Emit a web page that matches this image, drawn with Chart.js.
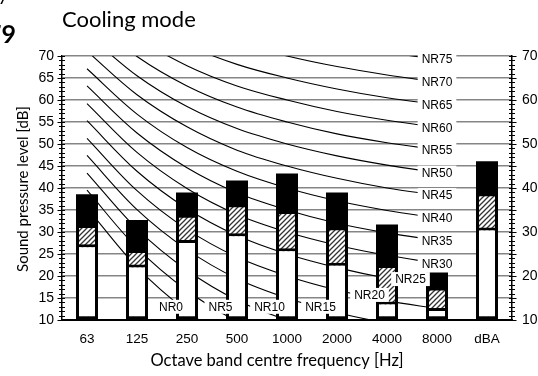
<!DOCTYPE html>
<html>
<head>
<meta charset="utf-8">
<script src="https://cdn.jsdelivr.net/npm/chart.js@4/dist/chart.umd.min.js"></script>
<style>
  html, body { margin: 0; padding: 0; background: #fff; }
</style>
</head>
<body>
<canvas id="chart" width="538" height="376"></canvas>
<script>
const bands = ['63', '125', '250', '500', '1000', '2000', '4000', '8000', 'dBA']

// bar tops in dB (bars start at 10)
const lowLevel  = [27.2, 22.6, 28.2, 29.7, 26.3, 23.0, 14.2, 12.7, 31.0]
const midLevel  = [31.6, 25.9, 33.9, 36.3, 34.8, 31.1, 22.5, 17.4, 38.8]
const highLevel = [38.6, 32.7, 39.0, 41.7, 43.3, 39.0, 31.7, 20.8, 46.1]

// NR curves, 63 Hz ... 8000 Hz
const nrNames = ['NR0', 'NR5', 'NR10', 'NR15', 'NR20', 'NR25', 'NR30', 'NR35',
                 'NR40', 'NR45', 'NR50', 'NR55', 'NR60', 'NR65', 'NR70', 'NR75']
const nrCurves = [
    [35.5, 22.0, 12.0,  4.8,  0.0, -3.5, -6.1, -8.0],
    [39.5, 26.4, 16.7,  9.7,  5.0,  1.6, -1.0, -2.9],
    [43.4, 30.7, 21.3, 14.5, 10.0,  6.7,  4.2,  2.3],
    [47.4, 35.1, 26.0, 19.4, 15.0, 11.7,  9.3,  7.5],
    [51.3, 39.4, 30.6, 24.3, 20.0, 16.8, 14.4, 12.6],
    [55.3, 43.8, 35.3, 29.2, 25.0, 21.9, 19.5, 17.8],
    [59.2, 48.1, 39.9, 34.0, 30.0, 27.0, 24.7, 22.9],
    [63.2, 52.5, 44.6, 38.9, 35.0, 32.0, 29.8, 28.1],
    [67.1, 56.8, 49.2, 43.8, 40.0, 37.1, 34.9, 33.2],
    [71.1, 61.2, 53.9, 48.6, 45.0, 42.2, 40.0, 38.4],
    [75.0, 65.5, 58.5, 53.5, 50.0, 47.3, 45.2, 43.5],
    [79.0, 69.9, 63.2, 58.4, 55.0, 52.3, 50.3, 48.7],
    [82.9, 74.2, 67.8, 63.2, 60.0, 57.4, 55.4, 53.8],
    [86.9, 78.6, 72.5, 68.1, 65.0, 62.5, 60.5, 59.0],
    [90.8, 82.9, 77.1, 73.0, 70.0, 67.6, 65.7, 64.1],
    [94.8, 87.3, 81.8, 77.9, 75.0, 72.6, 70.8, 69.3]
]

const leftTicks = [10, 15, 20, 25, 30, 35, 40, 45, 50, 55, 60, 65, 70]
const rightTicks = [10, 20, 30, 40, 50, 60, 70]

const arial = '"Liberation Sans", Arial, sans-serif'
const titleFamily = 'Lato, "Open Sans", sans-serif'

// spots for the low NR labels (category index, dB); others sit at 8000 Hz
const lowLabelSpots = [[1.68, 13.0], [2.67, 13.0], [3.65, 13.0], [4.67, 13.0], [5.65, 15.7], [6.47, 19.3]]

function makeHatch() {
    const c = document.createElement('canvas')
    c.width = 5
    c.height = 5
    const g = c.getContext('2d')
    g.fillStyle = '#fff'
    g.fillRect(0, 0, 5, 5)
    g.strokeStyle = '#333'
    g.lineWidth = 1.3
    g.beginPath()
    g.moveTo(0, 5); g.lineTo(5, 0)
    g.moveTo(-1, 1); g.lineTo(1, -1)
    g.moveTo(4, 6); g.lineTo(6, 4)
    g.stroke()
    return g.createPattern(c, 'repeat')
}

const extras = {
    id: 'extras',
    afterDatasetsDraw(chart) {
        const { ctx, scales: { x, y } } = chart
        ctx.save()
        ctx.font = '12px ' + arial
        ctx.textAlign = 'center'
        ctx.textBaseline = 'middle'
        nrNames.forEach((name, i) => {
            let xi = 7
            let v = nrCurves[i][7]
            if (i < lowLabelSpots.length) {
                xi = lowLabelSpots[i][0]
                v = lowLabelSpots[i][1]
            }
            const px = x.getPixelForValue(xi)
            const py = y.getPixelForValue(v)
            const w = ctx.measureText(name).width + 8
            ctx.fillStyle = '#fff'
            ctx.fillRect(px - w / 2, py - 7, w, 14)
            ctx.fillStyle = '#000'
            ctx.fillText(name, px, py + 1)
        })
        ctx.restore()
    },
    afterDraw(chart) {
        const { ctx, chartArea: a, scales: { y } } = chart
        ctx.save()
        // minor / major tick marks on both value axes
        ctx.strokeStyle = '#000'
        ctx.lineWidth = 1
        for (let v = 10; v <= 70; v++) {
            const py = Math.round(y.getPixelForValue(v)) + 0.5
            const big = v % 5 === 0 ? 4.5 : 3
            ctx.beginPath()
            ctx.moveTo(a.left - big, py); ctx.lineTo(a.left + 3, py)
            ctx.moveTo(a.right - 3, py); ctx.lineTo(a.right + big, py)
            ctx.stroke()
        }

        ctx.fillStyle = '#000'
        ctx.textBaseline = 'alphabetic'
        ctx.textAlign = 'left'
        ctx.font = '22px ' + titleFamily
        ctx.fillText('Cooling mode', 62, 27)

        ctx.textAlign = 'right'
        ctx.font = 'bold 25px ' + titleFamily
        ctx.fillText('79', 16, 43)
        ctx.font = '20px ' + titleFamily
        ctx.fillText('y', 8, 1)

        ctx.textAlign = 'center'
        ctx.font = '16.5px ' + titleFamily
        ctx.fillText('Octave band centre frequency [Hz]', 277, 366)

        ctx.translate(28, 189)
        ctx.rotate(-Math.PI / 2)
        ctx.font = '15px ' + titleFamily
        ctx.fillText('Sound pressure level [dB]', 0, 0)
        ctx.restore()
    }
}

const barStyle = {
    type: 'bar',
    base: 10,
    borderColor: '#000',
    borderWidth: 3,
    borderSkipped: false,
    barPercentage: 0.44,
    categoryPercentage: 1
}

const datasets = [
    { ...barStyle, label: 'low', data: lowLevel, backgroundColor: '#fff', order: 1 },
    { ...barStyle, label: 'mid', data: midLevel, backgroundColor: makeHatch(), order: 2 },
    { ...barStyle, label: 'high', data: highLevel, backgroundColor: '#000', borderWidth: 0, order: 3 }
]
nrCurves.forEach((curve, i) => {
    datasets.push({
        type: 'line',
        label: nrNames[i],
        data: curve,
        borderColor: '#000',
        borderWidth: 1.1,
        pointRadius: 0,
        tension: 0.35,
        order: 10
    })
})

new Chart(document.querySelector('#chart'), {
    data: { labels: bands, datasets },
    options: {
        responsive: false,
        animation: false,
        devicePixelRatio: 1,
        layout: { padding: { top: 56, left: 0, right: 0, bottom: 0 } },
        plugins: {
            legend: { display: false },
            tooltip: { enabled: false }
        },
        scales: {
            x: {
                stacked: true,
                grid: { display: false, drawTicks: false },
                border: { color: '#000', width: 2 },
                ticks: { color: '#000', font: { family: arial, size: 13.5 }, padding: 11, maxRotation: 0 },
                afterFit: s => { s.height = 56 }
            },
            y: {
                position: 'left',
                min: 10,
                max: 70,
                afterBuildTicks: s => { s.ticks = leftTicks.map(v => ({ value: v })) },
                grid: { color: '#858585', lineWidth: 1.5, drawTicks: false },
                border: { color: '#000', width: 1.5 },
                ticks: { color: '#000', font: { family: arial, size: 14 }, padding: 8 },
                afterFit: s => { s.width = 62 }
            },
            y2: {
                position: 'right',
                min: 10,
                max: 70,
                afterBuildTicks: s => { s.ticks = rightTicks.map(v => ({ value: v })) },
                grid: { display: false, drawTicks: false },
                border: { color: '#000', width: 1.5 },
                ticks: { color: '#000', font: { family: arial, size: 14 }, padding: 10 },
                afterFit: s => { s.width = 26 }
            }
        }
    },
    plugins: [extras]
})
</script>
</body>
</html>
